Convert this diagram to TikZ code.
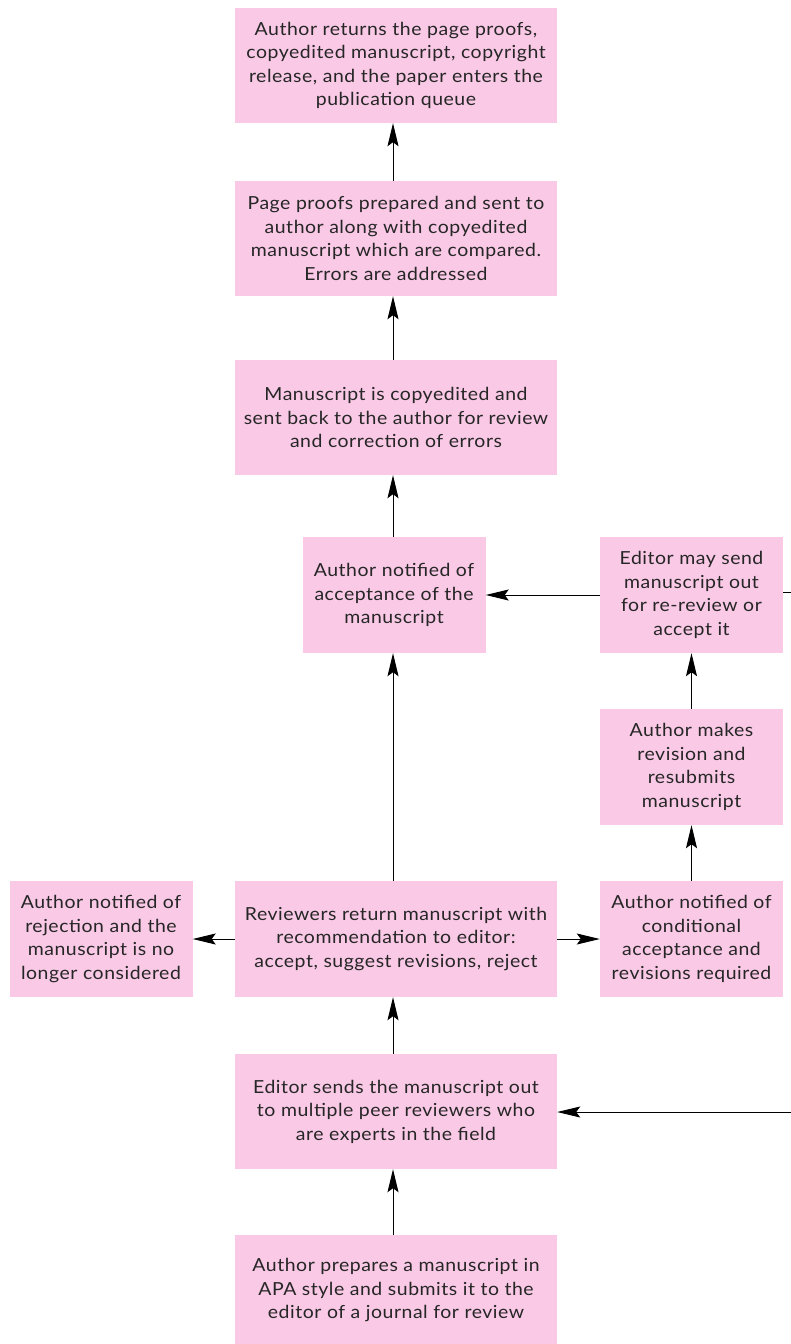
\documentclass[tikz,border=0pt]{standalone}
\usepackage{fontspec}
\setmainfont{Lato}[FakeStretch=1.08,LetterSpace=3]
\usetikzlibrary{arrows.meta}
\definecolor{boxpink}{RGB}{249,201,230}
\tikzset{
  box/.style={fill=boxpink, draw=none, align=center, inner sep=0pt,
    font=\fontsize{18}{23.5}\selectfont, text=black!85},
  wide/.style={box, minimum width=322pt, minimum height=115pt},
  narrow/.style={box, minimum width=183pt, minimum height=116pt},
  arr/.style={-{Stealth[length=23pt,width=11pt,inset=4pt]}, line width=1pt},
  ln/.style={line width=1pt}
}
\begin{document}
\begin{tikzpicture}[x=1pt,y=-1pt]
\useasboundingbox (0,0) rectangle (791,1344);
\node[wide] (pub) at (396,65.5) {Author returns the page proofs,\\copyedited manuscript, copyright\\release, and the paper enters the\\publication queue};
\node[wide] (proofs) at (396,238.5) {Page proofs prepared and sent to\\author along with copyedited\\manuscript which are compared.\\Errors are addressed};
\node[wide] (copy) at (396,417.5) {Manuscript is copyedited and\\sent back to the author for review\\and correction of errors};
\node[narrow] (acc) at (394,595) {Author notified of\\acceptance of the\\manuscript};
\node[narrow] (may) at (691.5,595) {Editor may send\\manuscript out\\for re-review or\\accept it};
\node[narrow] (rev) at (691.5,767) {Author makes\\revision and\\resubmits\\manuscript};
\node[narrow] (cond) at (691.5,939) {Author notified of\\conditional\\acceptance and\\revisions required};
\node[wide, minimum height=116pt] (revs) at (396,939) {Reviewers return manuscript with\\recommendation to editor:\\accept, suggest revisions, reject};
\node[narrow] (rej) at (101,939) {Author notified of\\rejection and the\\manuscript is no\\longer considered};
\node[wide] (sends) at (396,1111.5) {Editor sends the manuscript out\\to multiple peer reviewers who\\are experts in the field};
\node[wide, minimum height=110pt] (prep) at (396,1290) {Author prepares a manuscript in\\APA style and submits it to the\\editor of a journal for review};
\coordinate (r1) at (791,592);
\coordinate (r2) at (791,1112);
\draw[arr] (prep.north -| 393,0) -- (sends.south -| 393,0);
\draw[arr] (sends.north -| 393,0) -- (revs.south -| 393,0);
\draw[arr] (revs.north -| 393,0) -- (acc.south -| 393,0);
\draw[arr] (revs.west) -- (rej.east);
\draw[arr] (revs.east) -- (cond.west);
\draw[arr] (cond) -- (rev);
\draw[arr] (rev) -- (may);
\draw[arr] (may.west) -- (acc.east);
\draw[arr] (acc.north -| 393,0) -- (copy.south -| 393,0);
\draw[arr] (copy.north -| 393,0) -- (proofs.south -| 393,0);
\draw[arr] (proofs.north -| 393,0) -- (pub.south -| 393,0);
\draw[ln] (may.east |- r1) -- (r1);
\draw[arr] (r2) -- (sends.east |- r2);
\end{tikzpicture}
\end{document}
